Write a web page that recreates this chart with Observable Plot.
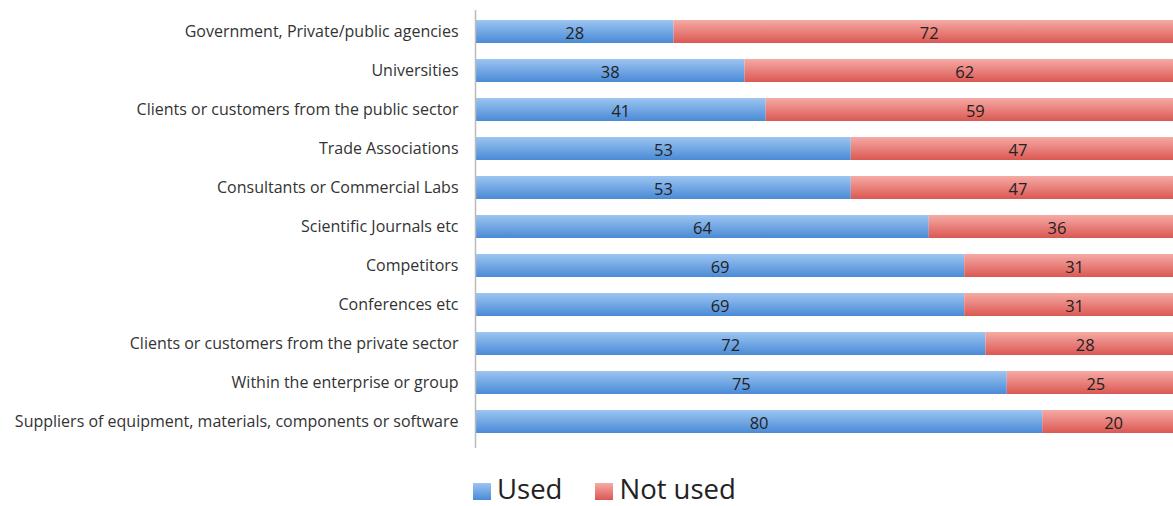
<!DOCTYPE html>
<html>
<head>
<meta charset="utf-8">
<script src="https://cdn.jsdelivr.net/npm/d3@7"></script>
<script src="https://cdn.jsdelivr.net/npm/@observablehq/plot@0.6"></script>
<style>
  body { margin: 0; background: #fff; font-family: "Open Sans", Lato, sans-serif; }
  #wrap { position: relative; width: 1173px; height: 506px; overflow: hidden; }
  #chart { position: absolute; left: 0; top: 0; width: 1184px; }
  #chart svg { max-width: none !important; }
  #legend { position: absolute; left: 473px; top: 477px; height: 24px; display: flex; align-items: center; font-size: 27.5px; line-height: 24px; color: #222; }
  .sw { width: 18px; height: 17px; display: inline-block; margin-right: 6px; margin-top: 4px; }
  .item { display: flex; align-items: center; margin-right: 33px; }
</style>
</head>
<body>
<div id="wrap">
  <div id="chart"></div>
  <div id="legend"></div>
</div>
<script>
const categories = [
  "Government, Private/public agencies",
  "Universities",
  "Clients or customers from the public sector",
  "Trade Associations",
  "Consultants or Commercial Labs",
  "Scientific Journals etc",
  "Competitors",
  "Conferences etc",
  "Clients or customers from the private sector",
  "Within the enterprise or group",
  "Suppliers of equipment, materials, components or software"
];
const used = [28, 38, 41, 53, 53, 64, 69, 69, 72, 75, 80];
const notUsed = [72, 62, 59, 47, 47, 36, 31, 31, 28, 25, 20];
const seriesNames = ["Used", "Not used"];
const seriesFills = ["url(#gBlue)", "url(#gRed)"];

const rows = [];
categories.forEach((c, i) => {
  rows.push({category: c, series: seriesNames[0], value: used[i], x1: 0, x2: used[i]});
  rows.push({category: c, series: seriesNames[1], value: notUsed[i], x1: used[i], x2: used[i] + notUsed[i]});
});

const chart = Plot.plot({
  width: 1184,
  height: 460,
  marginLeft: 475,
  marginRight: 0,
  marginTop: 12,
  marginBottom: 18,
  style: {fontFamily: "'Open Sans', Lato, sans-serif", background: "#fff", maxWidth: "none"},
  x: {domain: [0, 100], axis: null},
  y: {domain: categories, paddingInner: 0.4, paddingOuter: 0.2, label: null},
  marks: [
    Plot.barX(rows, {
      y: "category",
      x1: "x1",
      x2: "x2",
      fill: d => d.series === seriesNames[0] ? seriesFills[0] : seriesFills[1]
    }),
    Plot.text(rows, {
      y: "category",
      x: d => (d.x1 + d.x2) / 2,
      text: d => String(d.value),
      fontSize: 16.5,
      dy: 2,
      fill: "#222"
    }),
    Plot.axisY({tickSize: 0, tickPadding: 17, fontSize: 16, label: null, color: "#333"}),
    Plot.ruleX([0], {stroke: "#bbb", strokeWidth: 1.5, insetTop: -2, insetBottom: -6})
  ]
});

const defs = d3.create("svg:defs");
const mk = (id, top, bottom) => {
  const g = defs.append("linearGradient").attr("id", id).attr("x1", 0).attr("y1", 0).attr("x2", 0).attr("y2", 1);
  g.append("stop").attr("offset", "0%").attr("stop-color", top);
  g.append("stop").attr("offset", "100%").attr("stop-color", bottom);
};
mk("gBlue", "#9cc5f1", "#4a8ad6");
mk("gRed", "#f6aaa5", "#db5853");
chart.insertBefore(defs.node(), chart.firstChild);
document.getElementById("chart").appendChild(chart);

const legend = document.getElementById("legend");
const swatchColors = ["linear-gradient(#9cc5f1, #4a8ad6)", "linear-gradient(#f6aaa5, #db5853)"];
seriesNames.forEach((s, i) => {
  const it = document.createElement("div");
  it.className = "item";
  const sw = document.createElement("span");
  sw.className = "sw";
  sw.style.background = swatchColors[i];
  it.appendChild(sw);
  const t = document.createElement("span");
  t.textContent = s;
  it.appendChild(t);
  legend.appendChild(it);
});
</script>
</body>
</html>
